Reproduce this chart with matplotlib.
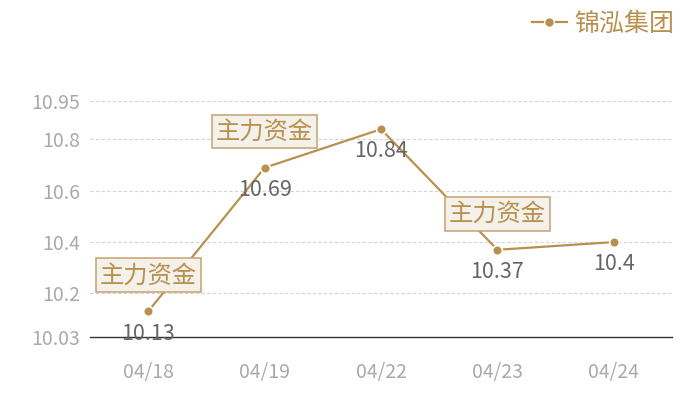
import matplotlib
matplotlib.use("Agg")
import matplotlib.pyplot as plt
from matplotlib.lines import Line2D

plt.rcParams['font.family'] = ['Noto Sans CJK SC', 'DejaVu Sans']

dates = ["04/18", "04/19", "04/22", "04/23", "04/24"]
prices = [10.13, 10.69, 10.84, 10.37, 10.4]
flags = ["主力资金", "主力资金", None, "主力资金", None]
yticks = [10.03, 10.2, 10.4, 10.6, 10.8, 10.95]
ytick_labels = ["10.03", "10.2", "10.4", "10.6", "10.8", "10.95"]
series_name = "锦泓集团"

gold = '#b8914f'
fig = plt.figure(figsize=(7, 4), dpi=100, facecolor='white')
ax = fig.add_axes([0.1286, 0.1575, 0.8314, 0.59])

x = list(range(len(dates)))
ax.plot(x, prices, color=gold, lw=1.6, marker='o', markersize=7,
        markerfacecolor=gold, markeredgecolor='white', markeredgewidth=1.2,
        zorder=3)

for xi, yi, fl in zip(x, prices, flags):
    ax.annotate(f'{yi:g}', (xi, yi), xytext=(0, -16), textcoords='offset points',
                ha='center', va='center', fontsize=15.5, color='#666666', zorder=5)
    if fl:
        ax.annotate(fl, (xi, yi), xytext=(0, 26), textcoords='offset points',
                    ha='center', va='center', fontsize=17.5, color=gold, zorder=6,
                    bbox=dict(boxstyle='square,pad=0.16', fc='#f4f0ea',
                              ec='#c9a877', lw=1.2))

ax.set_xlim(-0.5, len(dates) - 0.5)
ax.set_ylim(10.03, 10.95)
ax.set_xticks(x)
ax.set_xticklabels(dates)
ax.set_yticks(yticks)
ax.set_yticklabels(ytick_labels)
ax.tick_params(axis='both', length=0, labelsize=14, colors='#aaaaaa')
ax.tick_params(axis='x', pad=18)
ax.tick_params(axis='y', pad=7)
for yt in yticks[1:]:
    ax.axhline(yt, color='#d4d4d4', lw=0.8, ls=(0, (3, 2)), zorder=1)
for side in ['top', 'right', 'left']:
    ax.spines[side].set_visible(False)
ax.spines['bottom'].set_color('#333333')
ax.spines['bottom'].set_linewidth(1)

handle = Line2D([], [], color=gold, lw=1.6, marker='o', markersize=7,
                markerfacecolor=gold, markeredgecolor='white')
leg = fig.legend([handle], [series_name], loc='upper right',
                 bbox_to_anchor=(0.995, 1.03), frameon=False, fontsize=18,
                 handlelength=1.4, handletextpad=0.3)
for t in leg.get_texts():
    t.set_color(gold)

fig.savefig('out.png', dpi=100, facecolor='white')
